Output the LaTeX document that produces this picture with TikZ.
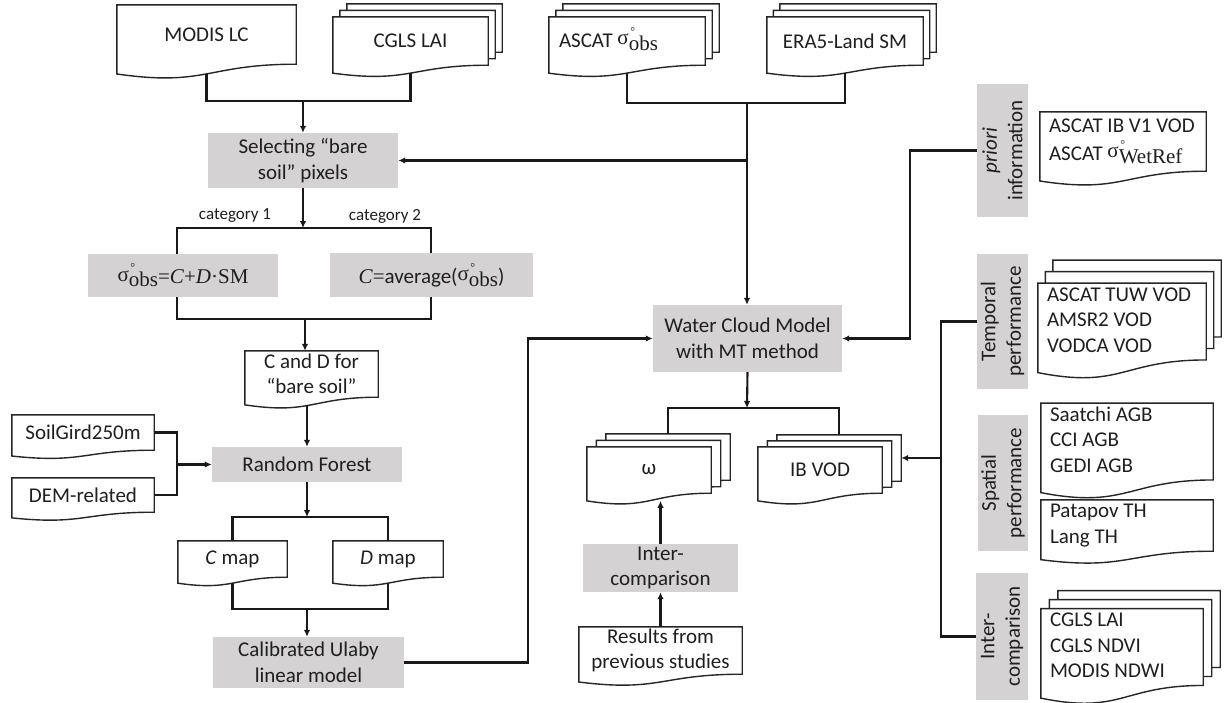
\documentclass[tikz,border=0pt]{standalone}
\usepackage{fontspec}
\setmainfont{Carlito}
\newfontfamily\tnr{Liberation Serif}
\usetikzlibrary{arrows.meta,calc,backgrounds}
\definecolor{boxgray}{RGB}{212,210,210}
\newcommand\sgm[1]{{\tnr\raisebox{0.3ex}{σ}\raisebox{-0.3ex}{\rlap{\raisebox{1.55ex}{\kern1.5pt\fontsize{12}{12}\selectfont °}}#1}}}
\newcommand\ltext[2]{\makebox[#1][l]{\begin{tabular}{@{}l@{}}#2\end{tabular}}}
\newcommand\docshape[3]{%
  \path[docline] let \p1=(#1.north west), \p2=(#1.south east), \n1={\y1-\y2} in
   ({\x1+(#2)},{\y1+(#3)}) -- ({\x2+(#2)},{\y1+(#3)}) -- ({\x2+(#2)},{\y2+(#3)})
   .. controls ({0.5*\x1+0.5*\x2+(#2)},{\y2+(#3)}) and ({0.5*\x1+0.5*\x2+(#2)},{\y2+(#3)-0.381*\n1}) ..
   ({\x1+(#2)},{\y2+(#3)-0.1646*\n1}) -- cycle;}
\newcommand\docbot[1]{\path let \p1=(#1.north), \p2=(#1.south) in (\x2,{\y2-0.1633*(\y1-\y2)}) coordinate (#1-b);}
\newcommand\doc[1]{\begin{pgfonlayer}{background}\docshape{#1}{0}{0}\end{pgfonlayer}\docbot{#1}}
\newcommand\stackdoc[3]{\begin{pgfonlayer}{background}\docshape{#1}{2*(#2)}{2*(#3)}\docshape{#1}{#2}{#3}\docshape{#1}{0}{0}\end{pgfonlayer}\docbot{#1}}
\tikzset{
  every node/.style={font=\fontsize{21}{25.5}\selectfont, text=black!88},
  conn/.style={line width=2.1pt, draw=black!90},
  arr/.style={conn, -{Latex[length=7pt,width=6.5pt]}},
  docline/.style={line width=1.4pt, fill=white, draw=black!85},
  docn/.style={inner sep=0pt, align=center},
  gbox/.style={fill=boxgray, inner sep=0pt, align=center},
  vbox/.style={gbox, rotate=90},
  catlab/.style={font=\fontsize{17}{20}\selectfont, inner sep=0pt},
}
\begin{document}
\begin{tikzpicture}[x=1pt,y=-1pt]
\useasboundingbox (0,0) rectangle (1224,702);
\begin{pgfonlayer}{background}\fill[white] (0,0) rectangle (1224,702);\end{pgfonlayer}

% ---- top inputs
\node[docn, minimum width=179, minimum height=59] (modis) at (206.5,34.5) {MODIS LC};
\doc{modis}
\node[docn, minimum width=155, minimum height=48] (cgls) at (410.5,41) {CGLS LAI};
\stackdoc{cgls}{7}{6.5}
\node[docn, minimum width=156, minimum height=48] (ascat) at (627,41) {\ltext{136pt}{ASCAT \sgm{obs}}};
\stackdoc{ascat}{7}{6.5}
\node[docn, minimum width=156, minimum height=48] (era) at (845,41) {ERA5-Land SM};
\stackdoc{era}{6.5}{6.5}

% ---- left chain
\node[gbox, minimum width=190, minimum height=55] (sel) at (303,160.5) {Selecting “bare\\soil” pixels};
\node[catlab] (lab1) at (235,215) {category 1};
\node[catlab] (lab2) at (385,216) {category 2};
\node[gbox, minimum width=190, minimum height=43] (cat1) at (183,275.5) {\sgm{obs}{\tnr =\textit{C}+\textit{D}·SM}};
\node[gbox, minimum width=203, minimum height=44] (cat2) at (431.5,275) {{\tnr\textit{C}=}average(\sgm{obs})};
\node[docn, minimum width=133, minimum height=46] (cd) at (311.5,374) {C and D for\\“bare soil”};
\doc{cd}
\node[docn, minimum width=142, minimum height=35] (soil) at (83,432.5) {SoilGird250m};
\doc{soil}
\node[docn, minimum width=142, minimum height=34] (dem) at (83,495) {DEM-related};
\doc{dem}
\node[gbox, minimum width=190, minimum height=35] (rf) at (307,464.5) {Random Forest};
\node[docn, minimum width=109, minimum height=36] (cmap) at (232.5,559) {\textit{C} map};
\doc{cmap}
\node[docn, minimum width=110, minimum height=36] (dmap) at (388,559) {\textit{D} map};
\doc{dmap}
\node[gbox, minimum width=191, minimum height=51] (cal) at (308.5,662.5) {Calibrated Ulaby\\linear model};

% ---- middle
\node[gbox, minimum width=189, minimum height=67] (wcm) at (747.5,338.5) {Water Cloud Model\\with MT method};
\node[docn, minimum width=124, minimum height=46] (omega) at (649,470) {ω};
\stackdoc{omega}{9.5}{6.5}
\node[docn, minimum width=124, minimum height=46] (ibvod) at (820,470) {IB VOD};
\stackdoc{ibvod}{9.5}{6}
\node[gbox, minimum width=155, minimum height=48] (interm) at (660.5,568) {Inter-\\comparison};
\node[docn, minimum width=163, minimum height=47] (results) at (660.5,650.5) {Results from\\previous studies};
\doc{results}

% ---- right column
\node[vbox, minimum width=133, minimum height=51] (priori) at (1002.5,150.5) {\textit{priori}\\information};
\node[vbox, minimum width=135, minimum height=51] (temporal) at (1002.5,321.5) {Temporal\\performance};
\node[vbox, minimum width=136, minimum height=50] (spatial) at (1003,483) {Spatial\\performance};
\node[vbox, minimum width=127, minimum height=52] (interr) at (1002,636.5) {Inter-\\comparison};

\node[docn, minimum width=166, minimum height=59] (priorid) at (1123,141.5) {\ltext{148pt}{ASCAT IB V1 VOD\\ASCAT \sgm{WetRef}}};
\doc{priorid}
\node[docn, minimum width=168, minimum height=71] (temporald) at (1122,321.5) {\ltext{150pt}{ASCAT TUW VOD\\AMSR2 VOD\\VODCA VOD}};
\stackdoc{temporald}{7.5}{11.5}
\node[docn, minimum width=172, minimum height=69] (spatiala) at (1127,441.5) {\ltext{154pt}{Saatchi AGB\\CCI AGB\\GEDI AGB}};
\doc{spatiala}
\node[docn, minimum width=172, minimum height=49] (spatialb) at (1127,525.5) {\ltext{154pt}{Patapov TH\\Lang TH}};
\doc{spatialb}
\node[docn, minimum width=162, minimum height=70] (interd) at (1122,647) {\ltext{144pt}{CGLS LAI\\CGLS NDVI\\MODIS NDWI}};
\stackdoc{interd}{8.5}{9}

% ---- connectors
\coordinate (t1) at (303,101);
\draw[conn] (modis-b) |- (t1) -| (cgls-b);
\draw[arr] (t1) -- (sel.north);

\coordinate (t2) at (747,103);
\draw[conn] (ascat-b) |- (t2) -| (era-b);
\draw[arr] (t2) -- (t2 |- wcm.north);
\draw[arr] (t2 |- sel.east) -- (sel.east);

\coordinate (j1) at (177,228);
\coordinate (j2) at (431,228);
\draw[arr] (sel.south) -- (sel.south |- j1);
\draw[conn] (j1 |- cat1.north) -- (j1) -- (j2) -- (j2 |- cat2.north);
\coordinate (k1) at (177,319);
\coordinate (k2) at (431,319);
\coordinate (k0) at (305,319);
\draw[conn] (j1 |- cat1.south) -- (k1) -- (k2) -- (j2 |- cat2.south);
\draw[arr] (k0) -- (k0 |- cd.north);
\draw[arr] (rf.north |- cd-b) -- (rf.north);

\coordinate (sj) at (177,436);
\draw[conn] (soil.east) -| (sj |- dem.east) -- (dem.east);
\draw[arr] (sj |- rf.west) -- (rf.west);

\coordinate (m1) at (310,517);
\draw[arr] (rf.south) -- (rf.south |- m1);
\draw[conn] (cmap.north) |- (m1) -| (dmap.north);
\coordinate (n1) at (307,609);
\draw[conn] (cmap-b) |- (n1) -| (dmap-b);
\draw[arr] (n1) -- (n1 |- cal.north);

\coordinate (w1) at (528,663);
\draw[arr] (cal.east) -| (w1 |- wcm.west) -- (wcm.west);

\coordinate (p1) at (910,150);
\draw[arr] (priori.north) -| (p1 |- wcm.east) -- (wcm.east);

\coordinate (u1) at (747,408);
\coordinate (omegatop) at ($(omega.north)+(19,-13)$);
\coordinate (ibtop) at ($(ibvod.north)+(19,-12)$);
\draw[arr] (wcm.south) -- (u1);
\draw[conn] (omegatop) |- (u1) -| (ibtop);

\coordinate (v1) at (941,323);
\draw[conn] (temporal.north) -| (v1 |- interr.north) -- (interr.north);
\coordinate (ibback) at ($(ibvod.east)+(19,-12)$);
\draw[arr] (v1 |- ibback) -- (ibback);

\draw[arr] (interm.north) -- (interm.north |- omega-b);
\draw[arr] (results.north) -- (interm.south);
\end{tikzpicture}
\end{document}
